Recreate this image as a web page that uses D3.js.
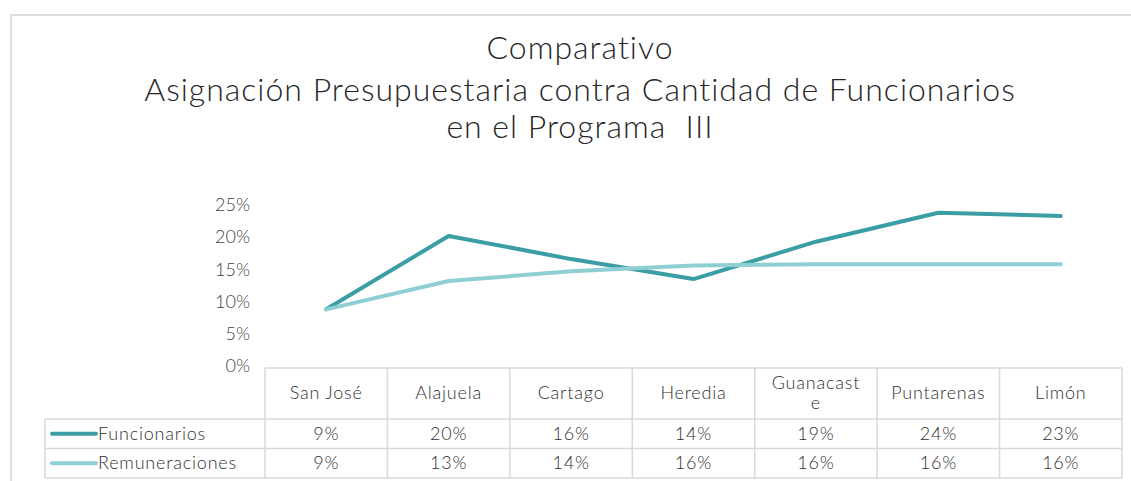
<!DOCTYPE html>
<html><head><meta charset="utf-8">
<script src="https://cdn.jsdelivr.net/npm/d3@7/dist/d3.min.js"></script>
<style>
html,body{margin:0;padding:0;background:#fff;}
svg{display:block;}
text{font-family:"Lato","Open Sans","DejaVu Sans",sans-serif;white-space:pre;}
</style></head>
<body><svg id="c" width="1131" height="481"></svg>
<script>
const titleLines = ["Comparativo", "Asignación Presupuestaria contra Cantidad de Funcionarios", "en el Programa  III"];
const categories = ["San José", "Alajuela", "Cartago", "Heredia", "Guanacaste", "Puntarenas", "Limón"];
const categoryLines = [["San José"], ["Alajuela"], ["Cartago"], ["Heredia"], ["Guanacast", "e"], ["Puntarenas"], ["Limón"]];
const seriesNames = ["Funcionarios", "Remuneraciones"];
const funcionarios = [0.088, 0.202, 0.166, 0.135, 0.193, 0.238, 0.233];
const remuneraciones = [0.088, 0.132, 0.147, 0.156, 0.158, 0.158, 0.158];
const funcionariosLabels = ["9%", "20%", "16%", "14%", "19%", "24%", "23%"];
const remuneracionesLabels = ["9%", "13%", "14%", "16%", "16%", "16%", "16%"];
const yTicks = [0, 0.05, 0.10, 0.15, 0.20, 0.25];
const colors = ["#3a9ea4", "#8fcfd4"];

const svg = d3.select("#c");
// outer frame
svg.append("path").attr("d", "M11,482 L11,15 L1131,15").attr("fill", "none")
  .attr("stroke", "#dcdcdc").attr("stroke-width", 2);

// title
const tg = svg.append("g");
const titleY = [59, 101, 138];
titleLines.forEach((t, i) => {
  tg.append("text").attr("x", 580).attr("y", titleY[i]).attr("text-anchor", "middle")
    .attr("font-size", 32).attr("font-weight", 300).attr("letter-spacing", 1)
    .attr("fill", "#262626").text(t);
});

const x = d3.scaleBand().domain(categories).range([265, 1122]).padding(0);
const y = d3.scaleLinear().domain([0, 0.25]).range([366, 205]);

// y axis labels
const ya = svg.append("g").attr("transform", "translate(250,0)")
  .call(d3.axisLeft(y).tickValues(yTicks).tickFormat(d3.format(".0%")).tickSize(0).tickPadding(0));
ya.select(".domain").remove();
ya.selectAll("text").attr("font-size", 18).attr("font-weight", 300).attr("fill", "#404040")
  .attr("font-family", '"Lato","Open Sans",sans-serif');

// lines
const cx = d => x(d) + x.bandwidth() / 2;
const line = d3.line().x((d, i) => cx(categories[i])).y(d => y(d));
[funcionarios, remuneraciones].forEach((s, k) => {
  svg.append("path").datum(s).attr("d", line).attr("fill", "none")
    .attr("stroke", colors[k]).attr("stroke-width", 4).attr("stroke-linejoin", "round")
    .attr("stroke-linecap", "round");
});

// data table
const tableTop = 368, headerBottom = 419, rowH = 29.5, legendLeft = 45;
const grid = "#d9d9d9";
const tbl = svg.append("g");
const right = x.range()[1];
tbl.append("line").attr("x1", x.range()[0]).attr("x2", right).attr("y1", tableTop).attr("y2", tableTop);
[0, 1, 2].forEach(r => {
  const yy = headerBottom + r * rowH;
  tbl.append("line").attr("x1", legendLeft).attr("x2", right).attr("y1", yy).attr("y2", yy);
});
categories.forEach(c => {
  tbl.append("line").attr("x1", x(c)).attr("x2", x(c)).attr("y1", tableTop).attr("y2", headerBottom + 2 * rowH);
});
tbl.append("line").attr("x1", right).attr("x2", right).attr("y1", tableTop).attr("y2", headerBottom + 2 * rowH);
tbl.append("line").attr("x1", legendLeft).attr("x2", legendLeft).attr("y1", headerBottom).attr("y2", headerBottom + 2 * rowH);
tbl.selectAll("line").attr("stroke", grid).attr("stroke-width", 1.5);

const tStyle = sel => sel.attr("font-size", 18).attr("font-weight", 300).attr("letter-spacing", 0.8).attr("fill", "#303030");
// header text
categoryLines.forEach((ls, i) => {
  const n = ls.length;
  ls.forEach((t, j) => {
    const yy = n === 1 ? 399 : 389 + j * 20;
    tbl.append("text").attr("x", cx(categories[i])).attr("y", yy).attr("text-anchor", "middle")
      .call(tStyle).text(t);
  });
});
// rows
[funcionariosLabels, remuneracionesLabels].forEach((labels, r) => {
  const yy = headerBottom + r * rowH + rowH / 2 + 6;
  tbl.append("line").attr("x1", 52).attr("x2", 96).attr("y1", yy - 6).attr("y2", yy - 6)
    .attr("stroke", colors[r]).attr("stroke-width", 4).attr("stroke-linecap", "round");
  tbl.append("text").attr("x", 98).attr("y", yy).call(tStyle).text(seriesNames[r]);
  labels.forEach((l, i) => {
    tbl.append("text").attr("x", cx(categories[i])).attr("y", yy).attr("text-anchor", "middle")
      .call(tStyle).text(l);
  });
});
</script></body></html>
